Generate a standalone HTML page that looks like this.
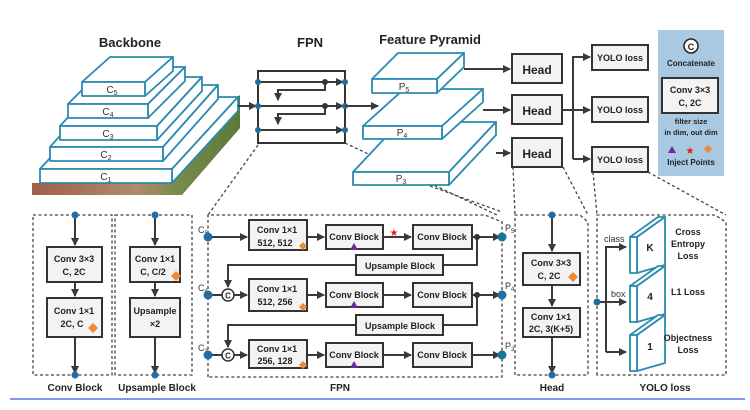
<!DOCTYPE html>
<html><head><meta charset="utf-8"><style>
html,body{margin:0;padding:0;background:#fff;}
svg{display:block;font-family:"Liberation Sans",sans-serif;}
.t{font-weight:bold;fill:#222;text-anchor:middle;}
.bx{fill:#f3f3f3;stroke:#333;stroke-width:2;}
.ln{stroke:#3a3a3a;stroke-width:2;fill:none;}
.ds{stroke:#444;stroke-width:1.3;stroke-dasharray:3,2.5;fill:none;}
.sl{fill:#fff;stroke:#2a8ab0;stroke-width:1.8;stroke-linejoin:round;}
.dot{fill:#1f6fa0;}
</style></head><body>
<svg width="750" height="410" viewBox="0 0 750 410" xmlns="http://www.w3.org/2000/svg">
<defs>
<marker id="a" markerWidth="8" markerHeight="8" refX="7" refY="4" orient="auto" markerUnits="userSpaceOnUse"><path d="M0,0 L8,4 L0,8 z" fill="#3a3a3a"/></marker>
<linearGradient id="img" x1="0" y1="0" x2="1" y2="0"><stop offset="0" stop-color="#a0604a"/><stop offset="0.5" stop-color="#b08a6a"/><stop offset="0.7" stop-color="#7a8a4a"/><stop offset="1" stop-color="#5a7a3a"/></linearGradient>
</defs>

<!-- titles -->
<text class="t" x="130" y="47" font-size="13">Backbone</text>
<text class="t" x="310" y="47" font-size="13">FPN</text>
<text class="t" x="430" y="44" font-size="13">Feature Pyramid</text>

<!-- backbone image -->
<polygon points="32,195 182,195 240,128 240,95 120,183 32,183" fill="url(#img)"/>
<!-- backbone layers -->
<g class="sl">
<polygon points="40,169 106,97 238,97 172,169"/><polygon points="172,169 238,97 238,111 172,183"/><rect x="40" y="169" width="132" height="14"/>
<polygon points="50,147 105,85 218,85 163,147"/><polygon points="163,147 218,85 218,99 163,161"/><rect x="50" y="147" width="113" height="14"/>
<polygon points="60,126 105,77 202,77 157,126"/><polygon points="157,126 202,77 202,91 157,140"/><rect x="60" y="126" width="97" height="14"/>
<polygon points="68,104 105,67 185,67 148,104"/><polygon points="148,104 185,67 185,81 148,118"/><rect x="68" y="104" width="80" height="14"/>
<polygon points="82,82 110,57 173,57 145,82"/><polygon points="145,82 173,57 173,71 145,96"/><rect x="82" y="82" width="63" height="14"/>
</g>
<g font-size="10" fill="#333" text-anchor="middle">
<text x="112" y="93">C<tspan font-size="7" dy="2">5</tspan></text>
<text x="108" y="115">C<tspan font-size="7" dy="2">4</tspan></text>
<text x="108" y="137">C<tspan font-size="7" dy="2">3</tspan></text>
<text x="106" y="158">C<tspan font-size="7" dy="2">2</tspan></text>
<text x="106" y="180">C<tspan font-size="7" dy="2">1</tspan></text>
</g>

<!-- backbone -> FPN -->
<line class="ln" x1="238" y1="106" x2="256" y2="106" marker-end="url(#a)"/>
<!-- FPN box -->
<rect x="258" y="71" width="87" height="72" fill="#fff" stroke="#333" stroke-width="2"/>
<line class="ln" x1="258" y1="82" x2="343" y2="82" marker-end="url(#a)"/>
<line class="ln" x1="258" y1="106" x2="343" y2="106" marker-end="url(#a)"/>
<line class="ln" x1="258" y1="130" x2="343" y2="130" marker-end="url(#a)"/>
<polyline class="ln" points="325,82 325,90 278,90 278,100" marker-end="url(#a)"/>
<polyline class="ln" points="325,106 325,114 278,114 278,124" marker-end="url(#a)"/>
<circle cx="325" cy="82" r="3" fill="#333"/><circle cx="325" cy="106" r="3" fill="#333"/>
<g class="dot"><circle cx="258" cy="82" r="3"/><circle cx="258" cy="106" r="3"/><circle cx="258" cy="130" r="3"/><circle cx="345" cy="82" r="3"/><circle cx="345" cy="106" r="3"/><circle cx="345" cy="130" r="3"/></g>
<line class="ln" x1="345" y1="106" x2="378" y2="106" marker-end="url(#a)"/>

<!-- dashed connectors -->
<line class="ds" x1="258" y1="145" x2="208" y2="215"/>
<line class="ds" x1="345" y1="143" x2="497" y2="215"/>
<line class="ds" x1="430" y1="186" x2="502" y2="212"/>
<line class="ds" x1="513" y1="167" x2="515" y2="215"/>
<line class="ds" x1="563" y1="167" x2="588" y2="215"/>
<line class="ds" x1="593" y1="172" x2="597" y2="215"/>
<line class="ds" x1="648" y1="172" x2="726" y2="215"/>

<!-- Feature pyramid -->
<g class="sl">
<polygon points="353,172 400,122 496,122 449,172"/><polygon points="449,172 496,122 496,135 449,185"/><rect x="353" y="172" width="96" height="13"/>
<polygon points="363,126 404,89 483,89 442,126"/><polygon points="442,126 483,89 483,102 442,139"/><rect x="363" y="126" width="79" height="13"/>
<polygon points="372,79 398,53 464,53 437,79"/><polygon points="437,79 464,53 464,67 437,93"/><rect x="372" y="79" width="65" height="14"/>
</g>
<g font-size="10" fill="#333" text-anchor="middle">
<text x="404" y="90">P<tspan font-size="7" dy="2">5</tspan></text>
<text x="402" y="136">P<tspan font-size="7" dy="2">4</tspan></text>
<text x="401" y="182">P<tspan font-size="7" dy="2">3</tspan></text>
</g>

<!-- heads -->
<line class="ln" x1="464" y1="69" x2="510" y2="69" marker-end="url(#a)"/>
<line class="ln" x1="483" y1="110" x2="510" y2="110" marker-end="url(#a)"/>
<line class="ln" x1="496" y1="153" x2="510" y2="153" marker-end="url(#a)"/>
<rect class="bx" x="512" y="54" width="50" height="29" fill="#fff"/>
<rect class="bx" x="512" y="95" width="50" height="29"/>
<rect class="bx" x="512" y="138" width="50" height="29"/>
<text class="t" x="537" y="74" font-size="12">Head</text>
<text class="t" x="537" y="115" font-size="12">Head</text>
<text class="t" x="537" y="158" font-size="12">Head</text>
<line class="ln" x1="562" y1="110" x2="590" y2="110" marker-end="url(#a)"/>
<polyline class="ln" points="573,159 573,57 590,57" marker-end="url(#a)"/>
<line class="ln" x1="573" y1="159" x2="590" y2="159" marker-end="url(#a)"/>
<rect class="bx" x="592" y="45" width="56" height="25"/>
<rect class="bx" x="592" y="97" width="56" height="25"/>
<rect class="bx" x="592" y="147" width="56" height="25"/>
<text class="t" x="620" y="61" font-size="9">YOLO loss</text>
<text class="t" x="620" y="113" font-size="9">YOLO loss</text>
<text class="t" x="620" y="163" font-size="9">YOLO loss</text>

<!-- legend -->
<rect x="658" y="30" width="66" height="146" fill="#a9c9e2"/>
<circle cx="691" cy="46" r="7" fill="#fff" stroke="#222" stroke-width="1.5"/>
<text class="t" x="691" y="50" font-size="9">C</text>
<text class="t" x="691" y="66" font-size="8">Concatenate</text>
<rect class="bx" x="662" y="78" width="56" height="35"/>
<text class="t" x="690" y="93" font-size="9">Conv 3×3</text>
<text class="t" x="690" y="106" font-size="9">C, 2C</text>
<text class="t" x="691" y="124" font-size="7.5">filter size</text>
<text class="t" x="691" y="135" font-size="7.5">in dim, out dim</text>
<polygon points="668,153 672,146 676,153" fill="#6a2a9a"/>
<text x="690" y="154" font-size="10" fill="#e02020" text-anchor="middle">★</text>
<polygon points="708,145 712,149 708,153 704,149" fill="#f08a30"/>
<text class="t" x="691" y="165" font-size="8">Inject Points</text>

<!-- Conv Block detail -->
<rect class="ds" x="33" y="215" width="79" height="160"/>
<rect class="ds" x="115" y="215" width="77" height="160"/>
<line class="ln" x1="75" y1="215" x2="75" y2="245" marker-end="url(#a)"/>
<line class="ln" x1="75" y1="282" x2="75" y2="296" marker-end="url(#a)"/>
<line class="ln" x1="75" y1="337" x2="75" y2="373" marker-end="url(#a)"/>
<rect class="bx" x="47" y="247" width="55" height="35"/>
<rect class="bx" x="47" y="298" width="55" height="39"/>
<text class="t" x="74" y="262" font-size="9">Conv 3×3</text>
<text class="t" x="74" y="275" font-size="9">C, 2C</text>
<text class="t" x="74" y="314" font-size="9">Conv 1×1</text>
<text class="t" x="72" y="327" font-size="9">2C, C</text>
<polygon points="93,323 98,328 93,333 88,328" fill="#f08a30"/>
<circle class="dot" cx="75" cy="215" r="3.5"/><circle class="dot" cx="75" cy="375" r="3.5"/>
<text class="t" x="75" y="391" font-size="10">Conv Block</text>
<!-- Upsample Block detail -->
<line class="ln" x1="155" y1="215" x2="155" y2="245" marker-end="url(#a)"/>
<line class="ln" x1="155" y1="282" x2="155" y2="296" marker-end="url(#a)"/>
<line class="ln" x1="155" y1="337" x2="155" y2="373" marker-end="url(#a)"/>
<rect class="bx" x="130" y="247" width="50" height="35"/>
<rect class="bx" x="130" y="298" width="50" height="39"/>
<text class="t" x="155" y="262" font-size="9">Conv 1×1</text>
<text class="t" x="153" y="275" font-size="9">C, C/2</text>
<text class="t" x="155" y="314" font-size="9">Upsample</text>
<text class="t" x="155" y="327" font-size="9">×2</text>
<polygon points="176,271 181,276 176,281 171,276" fill="#f08a30"/>
<circle class="dot" cx="155" cy="215" r="3.5"/><circle class="dot" cx="155" cy="375" r="3.5"/>
<text class="t" x="157" y="391" font-size="10">Upsample Block</text>

<!-- FPN detail -->
<path class="ds" d="M208,377 L208,215 L485,215 L502,222 L502,377 Z"/>
<g font-size="9" fill="#333">
<text x="198" y="233">C<tspan font-size="6" dy="2">5</tspan></text>
<text x="198" y="291">C<tspan font-size="6" dy="2">4</tspan></text>
<text x="198" y="351">C<tspan font-size="6" dy="2">3</tspan></text>
<text x="505" y="231">P<tspan font-size="6" dy="2">5</tspan></text>
<text x="505" y="289">P<tspan font-size="6" dy="2">4</tspan></text>
<text x="505" y="349">P<tspan font-size="6" dy="2">3</tspan></text>
</g>
<!-- row 1 -->
<line class="ln" x1="208" y1="237" x2="247" y2="237" marker-end="url(#a)"/>
<line class="ln" x1="307" y1="237" x2="324" y2="237" marker-end="url(#a)"/>
<line class="ln" x1="383" y1="237" x2="411" y2="237" marker-end="url(#a)"/>
<line class="ln" x1="472" y1="237" x2="500" y2="237" marker-end="url(#a)"/>
<!-- row 2 -->
<line class="ln" x1="208" y1="295" x2="222" y2="295"/>
<line class="ln" x1="234" y1="295" x2="247" y2="295" marker-end="url(#a)"/>
<line class="ln" x1="307" y1="295" x2="324" y2="295" marker-end="url(#a)"/>
<line class="ln" x1="383" y1="295" x2="411" y2="295" marker-end="url(#a)"/>
<line class="ln" x1="472" y1="295" x2="500" y2="295" marker-end="url(#a)"/>
<!-- row 3 -->
<line class="ln" x1="208" y1="355" x2="222" y2="355"/>
<line class="ln" x1="234" y1="355" x2="247" y2="355" marker-end="url(#a)"/>
<line class="ln" x1="307" y1="355" x2="324" y2="355" marker-end="url(#a)"/>
<line class="ln" x1="383" y1="355" x2="411" y2="355" marker-end="url(#a)"/>
<line class="ln" x1="472" y1="355" x2="500" y2="355" marker-end="url(#a)"/>
<!-- upsample paths -->
<polyline class="ln" points="477,237 477,265 443,265"/>
<polyline class="ln" points="356,265 228,265 228,287" marker-end="url(#a)"/>
<polyline class="ln" points="477,295 477,325 443,325"/>
<polyline class="ln" points="356,325 228,325 228,347" marker-end="url(#a)"/>
<circle cx="477" cy="237" r="3" fill="#333"/><circle cx="477" cy="295" r="3" fill="#333"/>
<rect class="bx" x="356" y="255" width="87" height="20"/>
<rect class="bx" x="356" y="315" width="87" height="20"/>
<text class="t" x="400" y="269" font-size="9">Upsample Block</text>
<text class="t" x="400" y="329" font-size="9">Upsample Block</text>
<circle cx="228" cy="295" r="6" fill="#fff" stroke="#333" stroke-width="1.5"/>
<circle cx="228" cy="355" r="6" fill="#fff" stroke="#333" stroke-width="1.5"/>
<text class="t" x="228" y="298.5" font-size="8">C</text>
<text class="t" x="228" y="358.5" font-size="8">C</text>
<!-- boxes -->
<rect class="bx" x="249" y="220" width="58" height="30"/>
<rect class="bx" x="249" y="279" width="58" height="32"/>
<rect class="bx" x="249" y="340" width="58" height="28"/>
<text class="t" x="277" y="233" font-size="9">Conv 1×1</text><text class="t" x="275" y="246" font-size="9">512, 512</text>
<text class="t" x="277" y="292" font-size="9">Conv 1×1</text><text class="t" x="275" y="305" font-size="9">512, 256</text>
<text class="t" x="277" y="352" font-size="9">Conv 1×1</text><text class="t" x="275" y="364" font-size="9">256, 128</text>
<g fill="#f08a30"><polygon points="303,242 307,246 303,250 299,246"/><polygon points="303,303 307,307 303,311 299,307"/><polygon points="303,361 307,365 303,369 299,365"/></g>
<rect class="bx" x="326" y="225" width="57" height="24"/>
<rect class="bx" x="326" y="283" width="57" height="24"/>
<rect class="bx" x="326" y="343" width="57" height="24"/>
<rect class="bx" x="413" y="225" width="59" height="24"/>
<rect class="bx" x="413" y="283" width="59" height="24"/>
<rect class="bx" x="413" y="343" width="59" height="24"/>
<g class="t" font-size="9">
<text x="354" y="240">Conv Block</text><text x="354" y="298">Conv Block</text><text x="354" y="358">Conv Block</text>
<text x="442" y="240">Conv Block</text><text x="442" y="298">Conv Block</text><text x="442" y="358">Conv Block</text>
</g>
<g fill="#6a2a9a"><polygon points="350,250 354,243 358,250"/><polygon points="350,308 354,301 358,308"/><polygon points="350,368 354,361 358,368"/></g>
<text x="394" y="236" font-size="10" fill="#e02020" text-anchor="middle">★</text>
<g class="dot"><circle cx="208" cy="237" r="4.5"/><circle cx="208" cy="295" r="4.5"/><circle cx="208" cy="355" r="4.5"/><circle cx="502" cy="237" r="4.5"/><circle cx="502" cy="295" r="4.5"/><circle cx="502" cy="355" r="4.5"/></g>
<text class="t" x="340" y="391" font-size="10">FPN</text>

<!-- Head detail -->
<path class="ds" d="M515,375 L515,215 L580,215 L588,222 L588,375 Z"/>
<line class="ln" x1="552" y1="215" x2="552" y2="251" marker-end="url(#a)"/>
<line class="ln" x1="552" y1="285" x2="552" y2="306" marker-end="url(#a)"/>
<line class="ln" x1="552" y1="337" x2="552" y2="373" marker-end="url(#a)"/>
<rect class="bx" x="523" y="253" width="57" height="32"/>
<rect class="bx" x="523" y="308" width="57" height="29"/>
<text class="t" x="551" y="266" font-size="9">Conv 3×3</text><text class="t" x="549" y="279" font-size="9">C, 2C</text>
<text class="t" x="551" y="320" font-size="9">Conv 1×1</text><text class="t" x="551" y="332" font-size="9">2C, 3(K+5)</text>
<polygon points="573,272 578,277 573,282 568,277" fill="#f08a30"/>
<circle class="dot" cx="552" cy="215" r="3.5"/><circle class="dot" cx="552" cy="375" r="3.5"/>
<text class="t" x="552" y="391" font-size="10">Head</text>

<!-- YOLO loss detail -->
<path class="ds" d="M597,375 L597,215 L715,215 L726,222 L726,375 Z"/>
<line class="ln" x1="597" y1="302" x2="626" y2="302" marker-end="url(#a)"/>
<polyline class="ln" points="606,352 606,247 626,247" marker-end="url(#a)"/>
<line class="ln" x1="606" y1="352" x2="626" y2="352" marker-end="url(#a)"/>
<circle class="dot" cx="597" cy="302" r="3.5"/>
<text x="604" y="242" font-size="9" fill="#333">class</text>
<text x="611" y="297" font-size="9" fill="#333">box</text>
<g class="sl">
<polygon points="630,237 658,217 665,217 637,237"/><polygon points="637,237 665,217 665,265 637,273"/><rect x="630" y="237" width="7" height="36"/>
<polygon points="630,286 658,266 665,266 637,286"/><polygon points="637,286 665,266 665,314 637,322"/><rect x="630" y="286" width="7" height="36"/>
<polygon points="630,335 658,315 665,315 637,335"/><polygon points="637,335 665,315 665,363 637,371"/><rect x="630" y="335" width="7" height="36"/>
</g>
<text class="t" x="650" y="251" font-size="10" font-weight="normal">K</text>
<text class="t" x="650" y="300" font-size="10">4</text>
<text class="t" x="650" y="350" font-size="10">1</text>
<g class="t" font-size="9">
<text x="688" y="235">Cross</text><text x="688" y="247">Entropy</text><text x="688" y="259">Loss</text>
<text x="688" y="295">L1 Loss</text>
<text x="688" y="341">Objectness</text><text x="688" y="353">Loss</text>
</g>
<text class="t" x="665" y="391" font-size="10">YOLO loss</text>

<line x1="10" y1="399" x2="745" y2="399" stroke="#3355ee" stroke-width="1.2"/>
</svg>
</body></html>
